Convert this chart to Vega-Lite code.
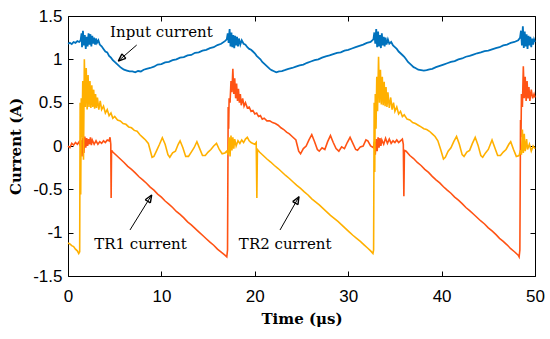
{
  "$schema": "https://vega.github.io/schema/vega-lite/v6.json",
  "width": 467,
  "height": 260,
  "autosize": "none",
  "padding": {"left": 68, "top": 16, "right": 15, "bottom": 63},
  "config": {
    "view": {"stroke": "black", "strokeWidth": 1},
    "axis": {"grid": false, "domain": false, "tickColor": "black", "labelColor": "black", "titleColor": "black", "tickSize": 5, "tickWidth": 1, "offset": -5, "labelFont": "Liberation Sans", "labelFontSize": 17, "titleFont": "DejaVu Serif", "titleFontWeight": "bold", "titleFontSize": 15, "labelFlush": false}
  },
  "datasets": {
    "input": [
      {"t":0.0,"v":1.18},{"t":0.2,"v":1.19},{"t":0.4,"v":1.175},{"t":0.6,"v":1.2},{"t":0.8,"v":1.19},{"t":1.0,"v":1.21},{"t":1.2,"v":1.2},{"t":1.35,"v":1.22},{"t":1.45,"v":1.3},{"t":1.5,"v":1.14},{"t":1.6,"v":1.33},{"t":1.7,"v":1.16},{"t":1.8,"v":1.28},{"t":1.9,"v":1.12},{"t":2.0,"v":1.26},{"t":2.1,"v":1.15},{"t":2.2,"v":1.3},{"t":2.3,"v":1.17},{"t":2.4,"v":1.29},{"t":2.5,"v":1.15},{"t":2.6,"v":1.27},{"t":2.7,"v":1.18},{"t":2.8,"v":1.25},{"t":2.9,"v":1.17},{"t":3.0,"v":1.24},{"t":3.1,"v":1.19},{"t":3.25,"v":1.22},{"t":3.4,"v":1.17},{"t":3.6,"v":1.15},{"t":3.8,"v":1.12},{"t":4.0,"v":1.09},{"t":4.2,"v":1.08},{"t":4.4,"v":1.04},{"t":4.6,"v":1.02},{"t":4.8,"v":0.99},{"t":5.0,"v":0.97},{"t":5.2,"v":0.95},{"t":5.4,"v":0.93},{"t":5.6,"v":0.91},{"t":5.8,"v":0.895},{"t":6.0,"v":0.88},{"t":6.3,"v":0.87},{"t":6.6,"v":0.86},{"t":6.9,"v":0.86},{"t":7.2,"v":0.85},{"t":7.5,"v":0.865},{"t":7.8,"v":0.86},{"t":8.1,"v":0.88},{"t":8.4,"v":0.89},{"t":8.8,"v":0.9},{"t":9.2,"v":0.915},{"t":9.6,"v":0.94},{"t":10.0,"v":0.945},{"t":10.4,"v":0.965},{"t":10.8,"v":0.97},{"t":11.2,"v":0.99},{"t":11.6,"v":1.0},{"t":12.0,"v":1.02},{"t":12.4,"v":1.025},{"t":12.8,"v":1.045},{"t":13.2,"v":1.05},{"t":13.6,"v":1.075},{"t":14.0,"v":1.08},{"t":14.4,"v":1.1},{"t":14.8,"v":1.11},{"t":15.2,"v":1.13},{"t":15.6,"v":1.14},{"t":16.0,"v":1.165},{"t":16.4,"v":1.18},{"t":16.8,"v":1.21},{"t":17.0,"v":1.23},{"t":17.1,"v":1.3},{"t":17.2,"v":1.19},{"t":17.3,"v":1.35},{"t":17.4,"v":1.15},{"t":17.5,"v":1.31},{"t":17.6,"v":1.14},{"t":17.7,"v":1.28},{"t":17.8,"v":1.13},{"t":17.9,"v":1.27},{"t":18.0,"v":1.16},{"t":18.1,"v":1.26},{"t":18.2,"v":1.15},{"t":18.3,"v":1.24},{"t":18.45,"v":1.17},{"t":18.6,"v":1.22},{"t":18.8,"v":1.18},{"t":19.0,"v":1.17},{"t":19.2,"v":1.14},{"t":19.4,"v":1.12},{"t":19.6,"v":1.11},{"t":19.8,"v":1.09},{"t":20.0,"v":1.07},{"t":20.2,"v":1.04},{"t":20.4,"v":1.02},{"t":20.6,"v":1.0},{"t":20.8,"v":0.97},{"t":21.0,"v":0.95},{"t":21.2,"v":0.93},{"t":21.4,"v":0.91},{"t":21.6,"v":0.89},{"t":21.8,"v":0.875},{"t":22.0,"v":0.865},{"t":22.3,"v":0.85},{"t":22.6,"v":0.86},{"t":22.9,"v":0.865},{"t":23.2,"v":0.875},{"t":23.6,"v":0.89},{"t":24.0,"v":0.9},{"t":24.4,"v":0.915},{"t":24.8,"v":0.93},{"t":25.2,"v":0.94},{"t":25.6,"v":0.96},{"t":26.0,"v":0.975},{"t":26.4,"v":0.99},{"t":26.8,"v":1.0},{"t":27.2,"v":1.02},{"t":27.6,"v":1.035},{"t":28.0,"v":1.045},{"t":28.4,"v":1.06},{"t":28.8,"v":1.075},{"t":29.2,"v":1.08},{"t":29.6,"v":1.1},{"t":30.0,"v":1.11},{"t":30.4,"v":1.125},{"t":30.8,"v":1.14},{"t":31.2,"v":1.155},{"t":31.6,"v":1.17},{"t":32.0,"v":1.19},{"t":32.4,"v":1.2},{"t":32.7,"v":1.23},{"t":32.8,"v":1.31},{"t":32.9,"v":1.18},{"t":33.0,"v":1.35},{"t":33.1,"v":1.14},{"t":33.2,"v":1.32},{"t":33.3,"v":1.15},{"t":33.4,"v":1.28},{"t":33.5,"v":1.13},{"t":33.6,"v":1.3},{"t":33.7,"v":1.16},{"t":33.8,"v":1.26},{"t":33.9,"v":1.15},{"t":34.0,"v":1.25},{"t":34.1,"v":1.17},{"t":34.25,"v":1.23},{"t":34.4,"v":1.18},{"t":34.6,"v":1.2},{"t":34.8,"v":1.16},{"t":35.0,"v":1.14},{"t":35.2,"v":1.12},{"t":35.4,"v":1.09},{"t":35.6,"v":1.07},{"t":35.8,"v":1.05},{"t":36.0,"v":1.03},{"t":36.2,"v":1.0},{"t":36.4,"v":0.97},{"t":36.6,"v":0.95},{"t":36.8,"v":0.93},{"t":37.0,"v":0.91},{"t":37.2,"v":0.9},{"t":37.5,"v":0.88},{"t":37.8,"v":0.875},{"t":38.1,"v":0.87},{"t":38.4,"v":0.875},{"t":38.7,"v":0.885},{"t":39.0,"v":0.89},{"t":39.4,"v":0.91},{"t":39.8,"v":0.925},{"t":40.2,"v":0.94},{"t":40.6,"v":0.955},{"t":41.0,"v":0.97},{"t":41.4,"v":0.98},{"t":41.8,"v":1.0},{"t":42.2,"v":1.01},{"t":42.6,"v":1.03},{"t":43.0,"v":1.04},{"t":43.4,"v":1.055},{"t":43.8,"v":1.07},{"t":44.2,"v":1.08},{"t":44.6,"v":1.095},{"t":45.0,"v":1.1},{"t":45.4,"v":1.115},{"t":45.8,"v":1.13},{"t":46.2,"v":1.14},{"t":46.6,"v":1.16},{"t":47.0,"v":1.17},{"t":47.4,"v":1.19},{"t":47.8,"v":1.2},{"t":48.2,"v":1.22},{"t":48.4,"v":1.25},{"t":48.5,"v":1.33},{"t":48.6,"v":1.16},{"t":48.7,"v":1.38},{"t":48.8,"v":1.13},{"t":48.9,"v":1.32},{"t":49.0,"v":1.15},{"t":49.1,"v":1.29},{"t":49.2,"v":1.12},{"t":49.3,"v":1.27},{"t":49.4,"v":1.16},{"t":49.5,"v":1.26},{"t":49.6,"v":1.14},{"t":49.7,"v":1.24},{"t":49.8,"v":1.17},{"t":49.9,"v":1.23},{"t":50.0,"v":1.2}
    ],
    "tr1": [
      {"t":0.0,"v":0.0},{"t":0.2,"v":-0.02},{"t":0.4,"v":0.03},{"t":0.6,"v":0.01},{"t":0.8,"v":0.04},{"t":1.0,"v":0.02},{"t":1.2,"v":0.05},{"t":1.3,"v":0.0},{"t":1.4,"v":0.07},{"t":1.5,"v":-0.12},{"t":1.6,"v":0.1},{"t":1.7,"v":-0.08},{"t":1.8,"v":0.11},{"t":1.9,"v":-0.02},{"t":2.0,"v":0.09},{"t":2.1,"v":0.0},{"t":2.2,"v":0.08},{"t":2.3,"v":0.02},{"t":2.4,"v":0.1},{"t":2.5,"v":0.01},{"t":2.6,"v":0.07},{"t":2.8,"v":0.02},{"t":3.0,"v":0.06},{"t":3.2,"v":0.02},{"t":3.4,"v":0.05},{"t":3.6,"v":0.03},{"t":3.8,"v":0.06},{"t":4.0,"v":0.04},{"t":4.2,"v":0.07},{"t":4.4,"v":0.06},{"t":4.5,"v":0.1},{"t":4.58,"v":0.02},{"t":4.62,"v":-0.6},{"t":4.66,"v":-0.05},{"t":4.8,"v":-0.07},{"t":5.2,"v":-0.11},{"t":5.6,"v":-0.15},{"t":6.0,"v":-0.19},{"t":6.4,"v":-0.235},{"t":6.8,"v":-0.27},{"t":7.2,"v":-0.31},{"t":7.6,"v":-0.355},{"t":8.0,"v":-0.39},{"t":8.4,"v":-0.43},{"t":8.8,"v":-0.475},{"t":9.2,"v":-0.51},{"t":9.6,"v":-0.555},{"t":10.0,"v":-0.59},{"t":10.4,"v":-0.635},{"t":10.8,"v":-0.67},{"t":11.2,"v":-0.71},{"t":11.6,"v":-0.755},{"t":12.0,"v":-0.79},{"t":12.4,"v":-0.83},{"t":12.8,"v":-0.875},{"t":13.2,"v":-0.91},{"t":13.6,"v":-0.95},{"t":14.0,"v":-0.99},{"t":14.4,"v":-1.03},{"t":14.8,"v":-1.07},{"t":15.2,"v":-1.11},{"t":15.6,"v":-1.145},{"t":16.0,"v":-1.19},{"t":16.4,"v":-1.225},{"t":16.8,"v":-1.26},{"t":17.0,"v":-1.28},{"t":17.08,"v":-1.2},{"t":17.15,"v":0.45},{"t":17.2,"v":0.2},{"t":17.25,"v":0.55},{"t":17.35,"v":0.5},{"t":17.45,"v":0.75},{"t":17.55,"v":0.62},{"t":17.65,"v":0.89},{"t":17.75,"v":0.6},{"t":17.85,"v":0.78},{"t":17.95,"v":0.55},{"t":18.05,"v":0.72},{"t":18.15,"v":0.52},{"t":18.25,"v":0.66},{"t":18.35,"v":0.5},{"t":18.45,"v":0.6},{"t":18.55,"v":0.47},{"t":18.7,"v":0.55},{"t":18.85,"v":0.46},{"t":19.0,"v":0.5},{"t":19.2,"v":0.44},{"t":19.4,"v":0.45},{"t":19.6,"v":0.4},{"t":19.8,"v":0.41},{"t":20.0,"v":0.37},{"t":20.2,"v":0.38},{"t":20.4,"v":0.34},{"t":20.6,"v":0.35},{"t":20.8,"v":0.31},{"t":21.0,"v":0.32},{"t":21.3,"v":0.29},{"t":21.6,"v":0.29},{"t":21.9,"v":0.27},{"t":22.2,"v":0.26},{"t":22.5,"v":0.24},{"t":22.8,"v":0.21},{"t":23.1,"v":0.19},{"t":23.4,"v":0.16},{"t":23.7,"v":0.14},{"t":24.0,"v":0.11},{"t":24.4,"v":0.07},{"t":24.7,"v":-0.06},{"t":24.9,"v":-0.09},{"t":25.2,"v":-0.03},{"t":25.5,"v":0.0},{"t":25.8,"v":0.07},{"t":26.1,"v":0.13},{"t":26.4,"v":0.05},{"t":26.7,"v":-0.04},{"t":26.9,"v":-0.06},{"t":27.2,"v":-0.02},{"t":27.5,"v":-0.04},{"t":27.8,"v":0.05},{"t":28.1,"v":0.12},{"t":28.4,"v":0.04},{"t":28.7,"v":-0.03},{"t":29.0,"v":-0.06},{"t":29.3,"v":-0.01},{"t":29.6,"v":-0.03},{"t":29.9,"v":0.04},{"t":30.2,"v":0.1},{"t":30.5,"v":0.03},{"t":30.8,"v":-0.04},{"t":31.0,"v":-0.05},{"t":31.3,"v":-0.01},{"t":31.6,"v":0.0},{"t":31.9,"v":0.07},{"t":32.1,"v":0.06},{"t":32.4,"v":0.0},{"t":32.7,"v":-0.02},{"t":32.8,"v":0.05},{"t":32.9,"v":-0.1},{"t":33.0,"v":0.08},{"t":33.1,"v":-0.06},{"t":33.2,"v":0.1},{"t":33.3,"v":-0.02},{"t":33.4,"v":0.09},{"t":33.5,"v":0.0},{"t":33.6,"v":0.07},{"t":33.8,"v":0.02},{"t":34.0,"v":0.09},{"t":34.2,"v":0.03},{"t":34.4,"v":0.08},{"t":34.6,"v":0.03},{"t":34.8,"v":0.06},{"t":35.0,"v":0.04},{"t":35.2,"v":0.07},{"t":35.4,"v":0.04},{"t":35.6,"v":0.06},{"t":35.8,"v":0.08},{"t":35.9,"v":0.02},{"t":35.96,"v":-0.58},{"t":36.02,"v":-0.05},{"t":36.2,"v":-0.06},{"t":36.6,"v":-0.11},{"t":37.0,"v":-0.145},{"t":37.4,"v":-0.19},{"t":37.8,"v":-0.225},{"t":38.2,"v":-0.27},{"t":38.6,"v":-0.305},{"t":39.0,"v":-0.35},{"t":39.4,"v":-0.39},{"t":39.8,"v":-0.425},{"t":40.2,"v":-0.47},{"t":40.6,"v":-0.51},{"t":41.0,"v":-0.545},{"t":41.4,"v":-0.59},{"t":41.8,"v":-0.625},{"t":42.2,"v":-0.665},{"t":42.6,"v":-0.71},{"t":43.0,"v":-0.745},{"t":43.4,"v":-0.785},{"t":43.8,"v":-0.825},{"t":44.2,"v":-0.865},{"t":44.6,"v":-0.9},{"t":45.0,"v":-0.945},{"t":45.4,"v":-0.98},{"t":45.8,"v":-1.02},{"t":46.2,"v":-1.065},{"t":46.6,"v":-1.1},{"t":47.0,"v":-1.14},{"t":47.4,"v":-1.185},{"t":47.8,"v":-1.22},{"t":48.2,"v":-1.26},{"t":48.3,"v":-1.28},{"t":48.38,"v":-1.2},{"t":48.45,"v":0.3},{"t":48.5,"v":0.1},{"t":48.55,"v":0.6},{"t":48.65,"v":0.45},{"t":48.75,"v":0.92},{"t":48.85,"v":0.55},{"t":48.95,"v":0.8},{"t":49.05,"v":0.52},{"t":49.15,"v":0.75},{"t":49.25,"v":0.55},{"t":49.35,"v":0.68},{"t":49.45,"v":0.52},{"t":49.6,"v":0.65},{"t":49.75,"v":0.55},{"t":49.9,"v":0.6},{"t":50.0,"v":0.56}
    ],
    "tr2": [
      {"t":0.0,"v":-1.12},{"t":0.2,"v":-1.13},{"t":0.4,"v":-1.15},{"t":0.6,"v":-1.16},{"t":0.8,"v":-1.19},{"t":1.0,"v":-1.21},{"t":1.15,"v":-1.24},{"t":1.25,"v":-1.22},{"t":1.3,"v":0.5},{"t":1.36,"v":-0.56},{"t":1.42,"v":0.55},{"t":1.5,"v":0.1},{"t":1.58,"v":0.75},{"t":1.66,"v":-0.16},{"t":1.75,"v":1.0},{"t":1.85,"v":0.45},{"t":1.95,"v":0.9},{"t":2.05,"v":0.42},{"t":2.15,"v":0.82},{"t":2.25,"v":0.45},{"t":2.35,"v":0.75},{"t":2.45,"v":0.44},{"t":2.55,"v":0.7},{"t":2.65,"v":0.45},{"t":2.75,"v":0.65},{"t":2.85,"v":0.43},{"t":2.95,"v":0.6},{"t":3.05,"v":0.44},{"t":3.15,"v":0.56},{"t":3.3,"v":0.42},{"t":3.45,"v":0.52},{"t":3.6,"v":0.42},{"t":3.8,"v":0.46},{"t":4.0,"v":0.38},{"t":4.2,"v":0.42},{"t":4.4,"v":0.35},{"t":4.6,"v":0.38},{"t":4.8,"v":0.32},{"t":5.0,"v":0.34},{"t":5.3,"v":0.3},{"t":5.6,"v":0.29},{"t":5.9,"v":0.26},{"t":6.2,"v":0.25},{"t":6.5,"v":0.22},{"t":6.8,"v":0.21},{"t":7.1,"v":0.18},{"t":7.4,"v":0.17},{"t":7.7,"v":0.13},{"t":8.0,"v":0.1},{"t":8.3,"v":0.07},{"t":8.6,"v":0.03},{"t":8.8,"v":-0.05},{"t":9.0,"v":-0.13},{"t":9.2,"v":-0.12},{"t":9.5,"v":-0.05},{"t":9.8,"v":0.02},{"t":10.1,"v":0.095},{"t":10.4,"v":0.02},{"t":10.7,"v":-0.1},{"t":10.9,"v":-0.13},{"t":11.2,"v":-0.08},{"t":11.5,"v":-0.06},{"t":11.8,"v":0.02},{"t":12.0,"v":0.06},{"t":12.3,"v":-0.02},{"t":12.6,"v":-0.12},{"t":12.9,"v":-0.12},{"t":13.2,"v":-0.07},{"t":13.5,"v":-0.02},{"t":13.8,"v":0.05},{"t":14.1,"v":-0.03},{"t":14.4,"v":-0.11},{"t":14.7,"v":-0.11},{"t":15.0,"v":-0.07},{"t":15.3,"v":-0.04},{"t":15.6,"v":0.0},{"t":15.9,"v":0.03},{"t":16.2,"v":-0.04},{"t":16.5,"v":-0.09},{"t":16.8,"v":-0.08},{"t":17.0,"v":-0.06},{"t":17.15,"v":-0.1},{"t":17.25,"v":0.1},{"t":17.35,"v":-0.12},{"t":17.45,"v":0.12},{"t":17.55,"v":-0.05},{"t":17.65,"v":0.1},{"t":17.75,"v":-0.03},{"t":17.85,"v":0.08},{"t":18.0,"v":0.0},{"t":18.2,"v":0.06},{"t":18.4,"v":0.03},{"t":18.6,"v":0.07},{"t":18.8,"v":0.04},{"t":19.0,"v":0.08},{"t":19.2,"v":0.1},{"t":19.4,"v":0.06},{"t":19.6,"v":0.04},{"t":19.8,"v":0.03},{"t":20.0,"v":0.02},{"t":20.15,"v":0.04},{"t":20.22,"v":-0.6},{"t":20.28,"v":-0.04},{"t":20.5,"v":-0.07},{"t":20.9,"v":-0.11},{"t":21.3,"v":-0.15},{"t":21.7,"v":-0.185},{"t":22.1,"v":-0.225},{"t":22.5,"v":-0.26},{"t":22.9,"v":-0.3},{"t":23.3,"v":-0.34},{"t":23.7,"v":-0.375},{"t":24.1,"v":-0.415},{"t":24.5,"v":-0.455},{"t":24.9,"v":-0.49},{"t":25.3,"v":-0.53},{"t":25.7,"v":-0.565},{"t":26.1,"v":-0.61},{"t":26.5,"v":-0.645},{"t":26.9,"v":-0.68},{"t":27.3,"v":-0.72},{"t":27.7,"v":-0.76},{"t":28.1,"v":-0.8},{"t":28.5,"v":-0.835},{"t":28.9,"v":-0.87},{"t":29.3,"v":-0.91},{"t":29.7,"v":-0.95},{"t":30.1,"v":-0.99},{"t":30.5,"v":-1.03},{"t":30.9,"v":-1.065},{"t":31.3,"v":-1.1},{"t":31.7,"v":-1.14},{"t":32.1,"v":-1.18},{"t":32.4,"v":-1.21},{"t":32.65,"v":-1.24},{"t":32.72,"v":-1.2},{"t":32.78,"v":0.5},{"t":32.84,"v":-0.3},{"t":32.9,"v":0.6},{"t":32.98,"v":0.2},{"t":33.06,"v":0.8},{"t":33.14,"v":0.4},{"t":33.25,"v":1.03},{"t":33.35,"v":0.5},{"t":33.45,"v":0.88},{"t":33.55,"v":0.48},{"t":33.65,"v":0.8},{"t":33.75,"v":0.47},{"t":33.85,"v":0.74},{"t":33.95,"v":0.46},{"t":34.05,"v":0.68},{"t":34.15,"v":0.45},{"t":34.25,"v":0.62},{"t":34.4,"v":0.44},{"t":34.55,"v":0.56},{"t":34.7,"v":0.42},{"t":34.85,"v":0.5},{"t":35.0,"v":0.4},{"t":35.2,"v":0.45},{"t":35.4,"v":0.37},{"t":35.6,"v":0.4},{"t":35.8,"v":0.34},{"t":36.0,"v":0.36},{"t":36.3,"v":0.31},{"t":36.6,"v":0.3},{"t":36.9,"v":0.27},{"t":37.2,"v":0.26},{"t":37.5,"v":0.24},{"t":37.8,"v":0.22},{"t":38.1,"v":0.2},{"t":38.4,"v":0.19},{"t":38.7,"v":0.17},{"t":39.0,"v":0.14},{"t":39.3,"v":0.11},{"t":39.6,"v":0.06},{"t":39.9,"v":-0.04},{"t":40.2,"v":-0.15},{"t":40.4,"v":-0.13},{"t":40.7,"v":-0.06},{"t":41.0,"v":-0.02},{"t":41.3,"v":0.05},{"t":41.6,"v":0.11},{"t":41.9,"v":0.02},{"t":42.2,"v":-0.1},{"t":42.4,"v":-0.12},{"t":42.7,"v":-0.07},{"t":43.0,"v":-0.05},{"t":43.3,"v":0.03},{"t":43.6,"v":0.1},{"t":43.9,"v":0.01},{"t":44.2,"v":-0.11},{"t":44.4,"v":-0.13},{"t":44.7,"v":-0.08},{"t":45.0,"v":-0.04},{"t":45.4,"v":0.07},{"t":45.7,"v":-0.02},{"t":46.0,"v":-0.11},{"t":46.3,"v":-0.11},{"t":46.6,"v":-0.07},{"t":46.9,"v":-0.04},{"t":47.2,"v":0.02},{"t":47.4,"v":0.05},{"t":47.7,"v":-0.04},{"t":48.0,"v":-0.12},{"t":48.3,"v":-0.11},{"t":48.45,"v":-0.05},{"t":48.55,"v":-0.1},{"t":48.65,"v":0.19},{"t":48.75,"v":-0.08},{"t":48.85,"v":0.14},{"t":48.95,"v":-0.06},{"t":49.1,"v":0.08},{"t":49.2,"v":-0.04},{"t":49.4,"v":0.02},{"t":49.6,"v":-0.06},{"t":49.8,"v":0.0},{"t":50.0,"v":-0.03}
    ],
    "labels": [
      {"t":10.0,"v":1.263,"label":"Input current"},
      {"t":7.76,"v":-1.183,"label":"TR1 current"},
      {"t":23.25,"v":-1.183,"label":"TR2 current"}
    ],
    "arrows": [
      {"label":"Input current","t":7.355,"v":1.165,"t2":5.385,"v2":0.981,"ta":6.196,"va":1.011,"tb":5.774,"vb":1.063},
      {"label":"TR1 current","t":6.638,"v":-0.969,"t2":8.961,"v2":-0.565,"ta":8.27,"va":-0.62,"tb":8.816,"vb":-0.656},
      {"label":"TR2 current","t":22.7,"v":-0.969,"t2":24.73,"v2":-0.585,"ta":24.06,"va":-0.642,"tb":24.62,"vb":-0.676}
    ]
  },
  "layer": [
    {
      "data": {"name": "input"},
      "mark": {"type": "line", "color": "#0072BD", "strokeWidth": 1.8},
      "encoding": {
        "x": {"field": "t", "type": "quantitative", "scale": {"domain": [0, 50], "nice": false},
              "axis": {"orient": "bottom", "values": [0, 10, 20, 30, 40, 50], "title": "Time (μs)", "labelPadding": 12, "titleY": 52, "titleBaseline": "alphabetic"}},
        "y": {"field": "v", "type": "quantitative", "scale": {"domain": [-1.5, 1.5], "nice": false},
              "axis": {"orient": "left", "values": [-1.5, -1, -0.5, 0, 0.5, 1, 1.5], "labelExpr": "'' + datum.value", "title": "Current (A)", "labelPadding": 6, "titleX": -53, "titleBaseline": "alphabetic"}},
        "order": {"value": null}
      }
    },
    {
      "data": {"name": "tr1"},
      "mark": {"type": "line", "color": "#FF5314", "strokeWidth": 1.6},
      "encoding": {
        "x": {"field": "t", "type": "quantitative", "axis": {"orient": "top", "values": [0, 10, 20, 30, 40, 50], "labels": false, "title": null}},
        "y": {"field": "v", "type": "quantitative", "axis": {"orient": "right", "values": [-1.5, -1, -0.5, 0, 0.5, 1, 1.5], "labels": false, "title": null}},
        "order": {"value": null}
      }
    },
    {
      "data": {"name": "tr2"},
      "mark": {"type": "line", "color": "#FFB000", "strokeWidth": 1.6},
      "encoding": {
        "x": {"field": "t", "type": "quantitative", "axis": null},
        "y": {"field": "v", "type": "quantitative", "axis": null},
        "order": {"value": null}
      }
    },
    {
      "data": {"name": "labels"},
      "mark": {"type": "text", "font": "DejaVu Serif", "fontSize": 15, "color": "black", "align": "center", "baseline": "alphabetic"},
      "encoding": {
        "x": {"field": "t", "type": "quantitative", "axis": null},
        "y": {"field": "v", "type": "quantitative", "axis": null},
        "text": {"field": "label"}
      }
    },
    {
      "data": {"name": "arrows"},
      "mark": {"type": "rule", "color": "black", "strokeWidth": 1},
      "encoding": {
        "x": {"field": "t", "type": "quantitative", "axis": null},
        "y": {"field": "v", "type": "quantitative", "axis": null},
        "x2": {"field": "t2"},
        "y2": {"field": "v2"}
      }
    },
    {
      "data": {"name": "arrows"},
      "mark": {"type": "rule", "color": "black", "strokeWidth": 1.4},
      "encoding": {
        "x": {"field": "t2", "type": "quantitative", "axis": null},
        "y": {"field": "v2", "type": "quantitative", "axis": null},
        "x2": {"field": "ta"},
        "y2": {"field": "va"}
      }
    },
    {
      "data": {"name": "arrows"},
      "mark": {"type": "rule", "color": "black", "strokeWidth": 1.4},
      "encoding": {
        "x": {"field": "t2", "type": "quantitative", "axis": null},
        "y": {"field": "v2", "type": "quantitative", "axis": null},
        "x2": {"field": "tb"},
        "y2": {"field": "vb"}
      }
    },
    {
      "data": {"name": "arrows"},
      "mark": {"type": "rule", "color": "black", "strokeWidth": 1.4},
      "encoding": {
        "x": {"field": "ta", "type": "quantitative", "axis": null},
        "y": {"field": "va", "type": "quantitative", "axis": null},
        "x2": {"field": "tb"},
        "y2": {"field": "vb"}
      }
    },
    {
      "mark": {"type": "rect", "filled": false, "color": "black", "strokeWidth": 1},
      "encoding": {
        "x": {"datum": 0, "type": "quantitative", "axis": null},
        "x2": {"datum": 50},
        "y": {"datum": -1.5, "type": "quantitative", "axis": null},
        "y2": {"datum": 1.5}
      }
    }
  ],
  "resolve": {"axis": {"x": "independent", "y": "independent"}}
}
